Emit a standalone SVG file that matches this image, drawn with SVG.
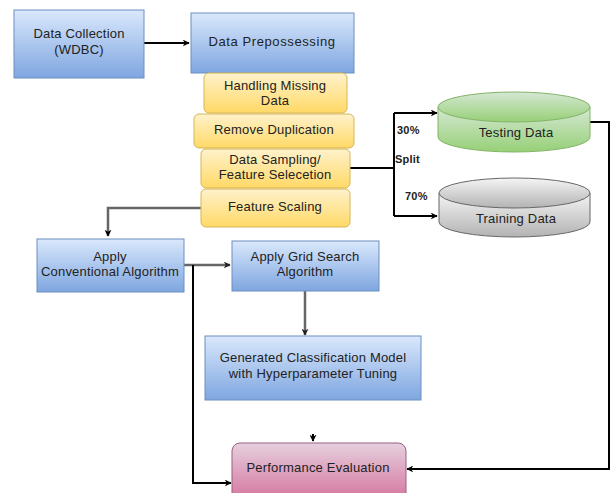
<svg xmlns="http://www.w3.org/2000/svg" width="611" height="493" viewBox="0 0 611 493">
<defs>
<linearGradient id="gBlue" x1="0" y1="0" x2="0" y2="1"><stop offset="0" stop-color="#dae8fc"/><stop offset="1" stop-color="#7ea6e0"/></linearGradient>
<linearGradient id="gYel" x1="0" y1="0" x2="0" y2="1"><stop offset="0" stop-color="#fff2cc"/><stop offset="1" stop-color="#ffd966"/></linearGradient>
<linearGradient id="gGreen" x1="0" y1="0" x2="0" y2="1"><stop offset="0" stop-color="#d5e8d4"/><stop offset="1" stop-color="#97d077"/></linearGradient>
<linearGradient id="gGray" x1="0" y1="0" x2="0" y2="1"><stop offset="0" stop-color="#f5f5f5"/><stop offset="1" stop-color="#b3b3b3"/></linearGradient>
<linearGradient id="gPink" x1="0" y1="0" x2="0" y2="1"><stop offset="0" stop-color="#e6d0de"/><stop offset="1" stop-color="#d5739d"/></linearGradient>
<marker id="ah" viewBox="0 0 10 10" refX="9" refY="5" markerWidth="7" markerHeight="7" orient="auto" markerUnits="userSpaceOnUse"><path d="M0,0 L10,5 L0,10 L3,5 z" fill="#000"/></marker>
<marker id="ahg" viewBox="0 0 10 10" refX="9" refY="5" markerWidth="7" markerHeight="7" orient="auto" markerUnits="userSpaceOnUse"><path d="M0,0 L10,5 L0,10 L3,5 z" fill="#222"/></marker>
</defs>
<style>
text{font-family:"Liberation Sans",Arial,sans-serif;font-size:13px;fill:#222;text-anchor:middle;dominant-baseline:middle;letter-spacing:0.2px}
.blue{fill:url(#gBlue);stroke:#6c8ebf;stroke-width:1}
.yel{fill:url(#gYel);stroke:#d6b656;stroke-width:1}
.green{fill:url(#gGreen);stroke:#82b366;stroke-width:1}
.gray{fill:url(#gGray);stroke:#666;stroke-width:1}
.pink{fill:url(#gPink);stroke:#996185;stroke-width:1}
.c{fill:none;stroke:#000;stroke-width:2}
.cg{fill:none;stroke:#666;stroke-width:2.5}
.lbl{font-size:11px;font-weight:bold;text-anchor:start}
</style>
<g id="connectors">
<path class="c" d="M144,43 L189,43" marker-end="url(#ah)"/>
<path class="cg" d="M201,208 L108,208 L108,236" marker-end="url(#ah)"/>
<path class="c" d="M350,168 L394,168 M394,113 L394,216"/>
<path class="c" d="M394,113 L437,113" marker-end="url(#ah)"/>
<path class="c" d="M394,216 L437,216" marker-end="url(#ah)"/>
<path class="c" d="M590,122 L609,122 L609,469 L407,469" marker-end="url(#ah)"/>
<path class="cg" d="M184,265 L230,265" marker-end="url(#ahg)"/>
<path class="c" d="M193,265 L193,483 L231,483" marker-end="url(#ah)"/>
<path class="cg" d="M305,291 L305,335" marker-end="url(#ahg)"/>
<path class="c" d="M313,434 L313,441" marker-end="url(#ah)"/>
<text class="lbl" x="397" y="131">30%</text>
<text class="lbl" x="395" y="160">Split</text>
<text class="lbl" x="405" y="197">70%</text>
</g>
<g id="n-collection"><rect class="blue" x="14" y="10" width="130" height="68"/><text x="79" y="35">Data Collection</text><text x="79" y="51">(WDBC)</text></g>
<g id="n-prep"><rect class="blue" x="191" y="13" width="163" height="60"/><text x="272" y="43" style="letter-spacing:0.6px">Data Prepossessing</text></g>
<g id="n-missing"><rect class="yel" x="204" y="73" width="143" height="40" rx="5"/><text x="275" y="87">Handling Missing</text><text x="275" y="102">Data</text></g>
<g id="n-dup"><rect class="yel" x="194" y="114" width="160" height="34" rx="5"/><text x="274" y="131">Remove Duplication</text></g>
<g id="n-sampling"><rect class="yel" x="201" y="149" width="149" height="39" rx="5"/><text x="275" y="161">Data Sampling/</text><text x="275" y="176">Feature Selecetion</text></g>
<g id="n-scaling"><rect class="yel" x="201" y="189" width="149" height="38" rx="5"/><text x="275" y="208">Feature Scaling</text></g>
<g id="n-testing"><path class="green" d="M438,107 L438,137 A76,15 0 0 0 590,137 L590,107"/><ellipse class="green" cx="514" cy="107" rx="76" ry="15"/><text x="516" y="134">Testing Data</text></g>
<g id="n-training"><path class="gray" d="M439,193 L439,222 A75.5,15 0 0 0 590,222 L590,193"/><ellipse class="gray" cx="514.5" cy="193" rx="75.5" ry="15"/><text x="516" y="220">Training Data</text></g>
<g id="n-conv"><rect class="blue" x="37" y="239" width="147" height="53"/><text x="110" y="258">Apply</text><text x="110" y="273">Conventional Algorithm</text></g>
<g id="n-grid"><rect class="blue" x="232" y="241" width="147" height="50"/><text x="305" y="258">Apply Grid Search</text><text x="305" y="273">Algorithm</text></g>
<g id="n-model"><rect class="blue" x="205" y="336" width="216" height="64"/><text x="313" y="359">Generated Classification Model</text><text x="313" y="375">with Hyperparameter Tuning</text></g>
<g id="n-perf"><rect class="pink" x="232" y="443" width="174" height="58" rx="8"/><text x="318" y="469">Performance Evaluation</text></g>
</svg>
